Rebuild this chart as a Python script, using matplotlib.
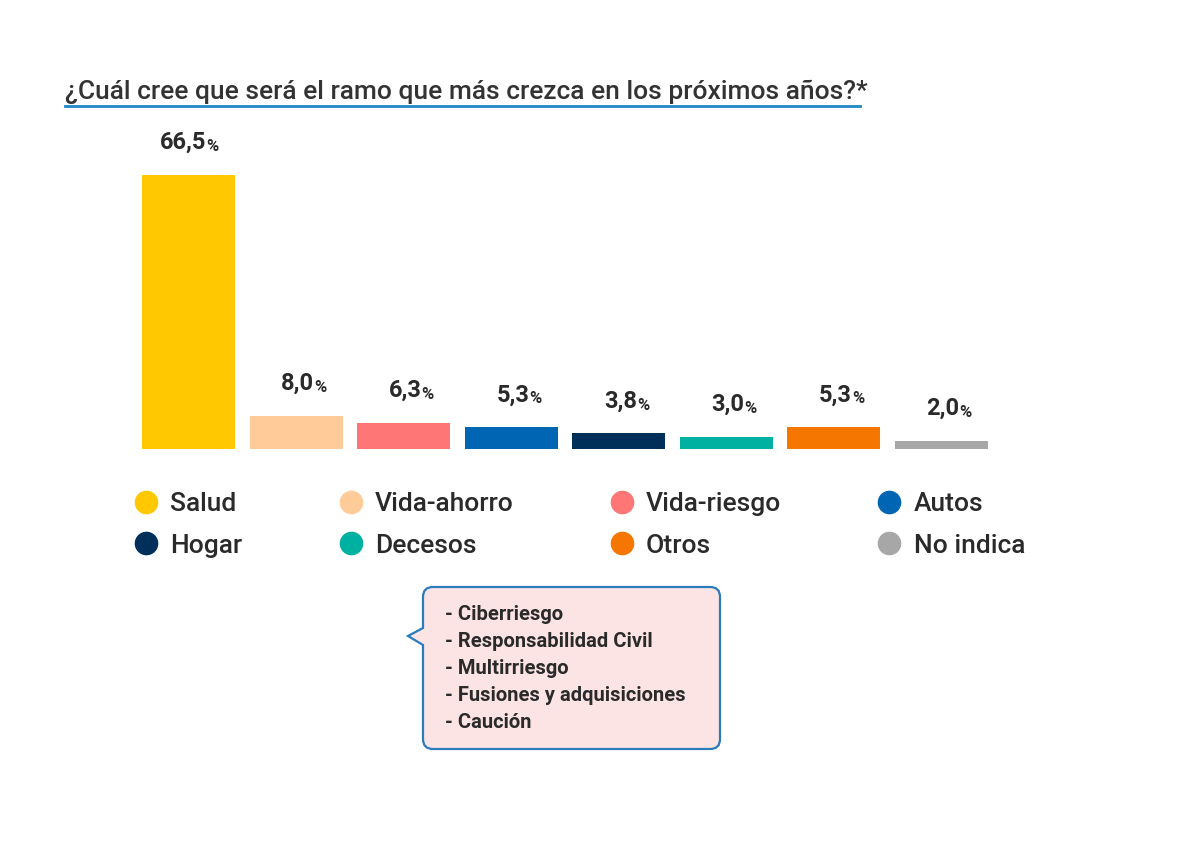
import matplotlib
matplotlib.use("Agg")
import matplotlib.pyplot as plt
from matplotlib.lines import Line2D
from matplotlib.path import Path
from matplotlib.patches import PathPatch
from matplotlib import transforms

plt.rcParams['font.family'] = ['Roboto', 'DejaVu Sans']

categorias = ['Salud', 'Vida-ahorro', 'Vida-riesgo', 'Autos',
              'Hogar', 'Decesos', 'Otros', 'No indica']
valores = [66.5, 8.0, 6.3, 5.3, 3.8, 3.0, 5.3, 2.0]
colores = ['#FFC800', '#FFCB99', '#FF7677', '#0066B3',
           '#00305A', '#00B1A1', '#F57600', '#A7A7A7']
otros_detalle = ['Ciberriesgo', 'Responsabilidad Civil', 'Multirriesgo',
                 'Fusiones y adquisiciones', 'Caución']

titulo = '¿Cuál cree que será el ramo que más crezca en los próximos años?*'
texto = '#2a2a2a'

W, H = 1200, 860
fig = plt.figure(figsize=(W / 100, H / 100), dpi=100)

# pixel coords (y down) -> figure
px = transforms.Affine2D().scale(1 / W, -1 / H).translate(0, 1) + fig.transFigure

# bars
ax = fig.add_axes([134.7 / W, (H - 449) / H, 860.6 / W, 329.6 / H])
x = range(len(valores))
ax.bar(x, valores, width=0.865, color=colores)
ax.set_xlim(-0.5, len(valores) - 0.5)
ax.set_ylim(0, 80)
ax.axis('off')

for i, v in enumerate(valores):
    num = f'{v:.1f}'.replace('.', ',')
    ax.annotate(num, (i, v), xytext=(13, 15), textcoords='offset points',
                ha='right', va='bottom', fontsize=17, fontweight='bold', color=texto)
    ax.annotate('%', (i, v), xytext=(13, 15), textcoords='offset points',
                ha='left', va='bottom', fontsize=12, fontweight='bold', color=texto)

# title
fig.text(65, 99, titulo, transform=px, fontsize=19, fontweight='medium',
         color='#333333', ha='left', va='baseline')
fig.add_artist(Line2D([65, 860], [106, 106], transform=px, color='#1E88C8', lw=2))

# legend (row order)
handles = [Line2D([], [], marker='o', ls='', ms=16, color=c) for c in colores]
orden = [0, 4, 1, 5, 2, 6, 3, 7]
fig.legend([handles[i] for i in orden], [categorias[i] for i in orden],
           ncol=4, frameon=False, loc='upper left',
           bbox_to_anchor=(109 / W, (H - 468) / H),
           handlelength=1.0, handletextpad=0.42,
           columnspacing=3.6, labelspacing=0.68, labelcolor=texto,
           prop={'weight': 'medium', 'size': 19})

# callout box
verts = [(433, 587), (710, 587), (720, 587), (720, 597), (720, 739),
         (720, 749), (710, 749), (433, 749), (423, 749), (423, 739),
         (423, 645), (408, 636), (423, 628), (423, 597), (423, 587),
         (433, 587), (433, 587)]
codes = [Path.MOVETO, Path.LINETO, Path.CURVE3, Path.CURVE3, Path.LINETO,
         Path.CURVE3, Path.CURVE3, Path.LINETO, Path.CURVE3, Path.CURVE3,
         Path.LINETO, Path.LINETO, Path.LINETO, Path.LINETO, Path.CURVE3,
         Path.CURVE3, Path.CLOSEPOLY]
fig.add_artist(PathPatch(Path(verts, codes), transform=px, facecolor='#FDE4E4',
                         edgecolor='#2A7CBC', lw=1.6))
for k, item in enumerate(otros_detalle):
    fig.text(445, 615 + k * 26.8, '- ' + item, transform=px, fontsize=14.5,
             fontweight='bold', color=texto, ha='left', va='center')

fig.savefig('out.png', dpi=100, facecolor='white')
